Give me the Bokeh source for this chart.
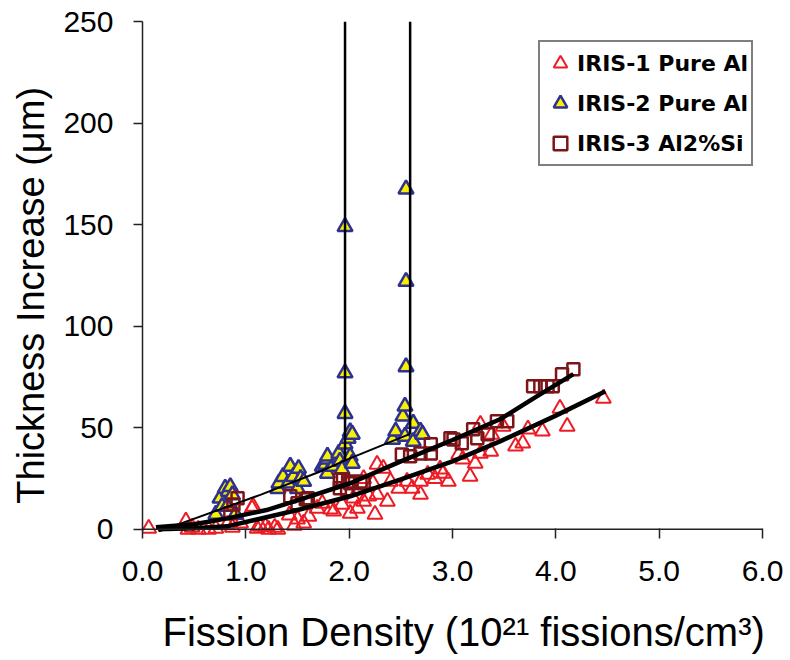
from bokeh.plotting import figure
from bokeh.models import Range1d, Legend, LegendItem, FixedTicker, NumeralTickFormatter, Span
from bokeh.embed import file_html
from bokeh.resources import INLINE

# ---- data ----
iris1_x = [0.06, 0.42, 0.44, 0.48, 0.54, 0.64, 0.71, 0.82, 0.87, 0.95,
           1.06, 1.07, 1.11, 1.14, 1.19, 1.22, 1.28, 1.31, 1.50, 1.56,
           1.61, 1.69, 1.74, 1.82, 1.85, 1.93, 2.01, 2.04, 2.08, 2.14,
           2.14, 2.19, 2.23, 2.25, 2.27, 2.27, 2.33, 2.37, 2.40, 2.48,
           2.56, 2.61, 2.69, 2.69, 2.76, 2.83, 2.88, 2.91, 2.96, 3.06,
           3.10, 3.17, 3.22, 3.27, 3.27, 3.37, 3.38, 3.49, 3.61, 3.68,
           3.73, 3.87, 4.04, 4.11, 4.46, 1.42, 1.47]
iris1_y = [0.5, 4, 0, 1, 0, 0, 0.5, 2.5, 1, 3,
           10.3, 11.3, 0.5, 1.5, 1.5, 0, 1, 0, 5, 3,
           6.4, 10.3, 12.8, 9.9, 8.9, 12.3, 7.9, 15.3, 10.3, 13.8,
           25, 16.3, 22.7, 7.4, 17.2, 32, 30, 13.8, 23.6, 20.2,
           23.6, 20.2, 23.6, 17.2, 27, 25, 29.6, 27.6, 23.6, 36.9,
           34.5, 26.1, 32.5, 37.4, 51.7, 38.4, 46.8, 50.7, 40.9, 42.4,
           49.3, 48.3, 59.6, 50.7, 64.5, 7, 2]

iris2_x = [0.71, 0.75, 0.77, 0.80, 0.82, 0.83, 0.85, 0.87, 0.90,
           1.31, 1.32, 1.36, 1.41, 1.43, 1.46, 1.50, 1.51, 1.53, 1.56,
           1.74, 1.77, 1.79, 1.79, 1.79, 1.84, 1.90, 1.90, 1.91, 1.93,
           1.96, 1.96, 1.96, 1.96, 1.99, 2.01, 2.01, 2.03, 2.03,
           2.42, 2.45, 2.52, 2.54, 2.54, 2.55, 2.55, 2.55,
           2.62, 2.62, 2.69, 2.71]
iris2_y = [7.4, 15.3, 11.3, 20.2, 11.3, 18.7, 21, 17, 7.4,
           20, 22.7, 26, 22.7, 31, 26, 20, 30, 25, 23.6,
           31, 32, 27.6, 34.5, 36, 31, 35, 37.4, 33.5, 29.6,
           149, 77, 57, 42, 44.8, 48, 36, 46.8, 32.5,
           44.3, 48.3, 55.7, 60.6, 45.8, 167.5, 122, 80,
           52.2, 43.3, 48.3, 46.8]

iris3_x = [0.85, 0.88, 0.92, 1.43, 1.50, 1.58, 1.60,
           1.91, 1.91, 1.94, 1.98, 1.99, 2.01, 2.11, 2.14,
           2.51, 2.59, 2.69, 2.79, 2.79, 2.98, 3.01, 3.09, 3.20, 3.24,
           3.34, 3.43, 3.53, 3.78, 3.85, 3.92, 3.97, 4.06, 4.17]
iris3_y = [7.9, 12.3, 15.3, 16.3, 12.8, 14.8, 15.3,
           24.6, 20.2, 24.6, 19.7, 23.6, 22.7, 23.6, 22.7,
           36.9, 36, 37.4, 41.9, 37.4, 44.8, 44.3, 42.4, 49.3, 44.8,
           46.8, 53.2, 53.2, 70.4, 70.4, 70.4, 70.4, 76.4, 78.8]

fit3_x = [0.13, 0.5, 0.82, 1.2, 1.53, 2.01, 2.5, 3.0, 3.46, 3.8, 4.17]
fit3_y = [1, 2.5, 5.4, 9.5, 14.8, 22.7, 33.5, 44, 54.2, 65, 76.4]
fit1_x = [0.15, 0.5, 0.82, 1.2, 1.53, 2.01, 2.5, 3.0, 3.46, 4.0, 4.48]
fit1_y = [0, 0.5, 1.5, 6, 9.9, 16.3, 24.6, 33.5, 43.3, 56, 68]
fit2_x = [0.16, 1.14, 1.72, 1.96, 2.59]
fit2_y = [-1, 17, 28.5, 34, 47]
break_x = [1.96, 2.59]
break_y0 = [34, 47]
break_y1 = [250, 250]

labels = ["IRIS-1 Pure Al", "IRIS-2 Pure Al", "IRIS-3 Al2%Si"]
x_ticks = [0, 1, 2, 3, 4, 5, 6]
y_ticks = [0, 50, 100, 150, 200, 250]

FONT = "Liberation Sans"
NB = "\u00a0"

p = figure(width=790, height=660, output_backend="svg", toolbar_location=None,
           x_range=Range1d(0, 6), y_range=Range1d(-4, 250),
           min_border_left=142, min_border_right=28, min_border_top=21,
           min_border_bottom=123)
p.outline_line_color = None
p.grid.visible = False
p.background_fill_color = "white"
p.border_fill_color = "white"

r1 = p.scatter(iris1_x, iris1_y, marker="triangle", size=15, fill_color=None,
               line_color="#ed1c24", line_width=2)
r2 = p.scatter(iris2_x, iris2_y, marker="triangle", size=15, fill_color="#f7f000",
               line_color="#2e3192", line_width=2.5)
r3 = p.scatter(iris3_x, iris3_y, marker="square", size=12, fill_color=None,
               line_color="#7d1518", line_width=2.5)

p.line(fit1_x, fit1_y, line_color="black", line_width=4.5)
p.line(fit3_x, fit3_y, line_color="black", line_width=4.5)
p.line(fit2_x, fit2_y, line_color="black", line_width=2)
p.segment(x0=break_x, y0=break_y0, x1=break_x, y1=break_y1, line_color="black",
          line_width=2.5)

# x axis line drawn at y = 0
p.add_layout(Span(location=0, dimension="width", line_color="#222222", line_width=1.5))

# axes
p.xaxis.ticker = FixedTicker(ticks=x_ticks)
p.xaxis.formatter = NumeralTickFormatter(format="0.0")
p.yaxis.ticker = FixedTicker(ticks=y_ticks)
p.yaxis.bounds = (0, 250)
for ax in (p.xaxis[0], p.yaxis[0]):
    ax.minor_tick_line_color = None
    ax.axis_line_color = "#222222"
    ax.axis_line_width = 1.5
    ax.major_tick_line_color = "#222222"
    ax.major_tick_line_width = 1.5
    ax.major_label_text_font = FONT
    ax.major_label_text_font_size = "30px"
    ax.major_label_text_color = "black"
    ax.axis_label_text_font = FONT
    ax.axis_label_text_font_style = "normal"
    ax.axis_label_text_color = "black"
p.xaxis.axis_line_color = None
p.xaxis.major_tick_in = 9
p.xaxis.major_tick_out = 1
p.yaxis.major_tick_in = 0
p.yaxis.major_tick_out = 9
p.xaxis.major_label_standoff = 22
p.yaxis.major_label_standoff = 20
p.xaxis.axis_label = NB + NB + "Fission Density (10\u00b2\u00b9 fissions/cm\u00b3)"
p.yaxis.axis_label = "Thickness Increase (\u03bcm)" + NB * 3
p.xaxis.axis_label_text_font_size = "40px"
p.yaxis.axis_label_text_font_size = "38px"
p.xaxis.axis_label_standoff = 26
p.yaxis.axis_label_standoff = 8

legend = Legend(items=[LegendItem(label=labels[0], renderers=[r1]),
                       LegendItem(label=labels[1], renderers=[r2]),
                       LegendItem(label=labels[2], renderers=[r3])],
                location=(396, 371))
legend.label_text_font = "DejaVu Sans"
legend.label_text_font_style = "bold"
legend.label_text_font_size = "22px"
legend.label_text_color = "black"
legend.glyph_width = 34
legend.glyph_height = 36
legend.label_height = 36
legend.spacing = 4
legend.padding = 3
legend.margin = 0
legend.label_standoff = 0
legend.border_line_color = "black"
legend.border_line_width = 2
legend.background_fill_color = "white"
legend.background_fill_alpha = 1
p.add_layout(legend)

open("out.html", "w").write(file_html(p, INLINE))
